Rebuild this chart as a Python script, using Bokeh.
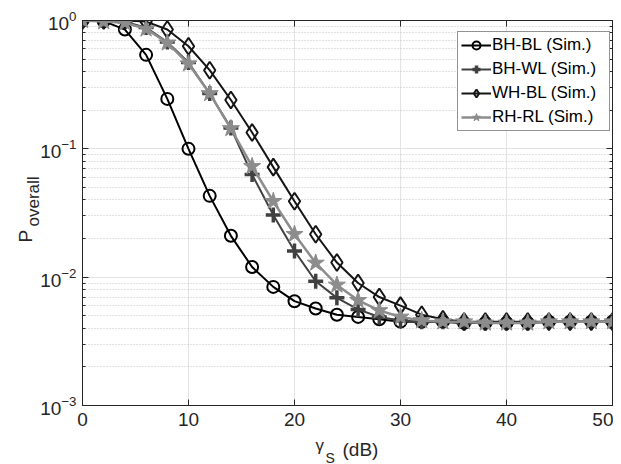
from bokeh.plotting import figure
from bokeh.models import (Range1d, LinearAxis, LogAxis, Legend, LegendItem, GridBox,
                          FixedTicker, LogTicker, ColumnDataSource, CustomJSTickFormatter)
from bokeh.core.properties import value
from bokeh.embed import file_html
from bokeh.resources import INLINE

snr_db = [0, 2, 4, 6, 8, 10, 12, 14, 16, 18, 20, 22, 24, 26, 28, 30,
          32, 34, 36, 38, 40, 42, 44, 46, 48, 50]

bh_bl = [1.0, 0.99, 0.85, 0.54, 0.245, 0.10, 0.043, 0.021, 0.012, 0.0084,
         0.0065, 0.0057, 0.0051, 0.0049, 0.0047, 0.0045, 0.0045, 0.0045,
         0.0044, 0.0044, 0.0044, 0.0044, 0.0045, 0.0045, 0.0045, 0.0045]
bh_wl = [1.0, 1.0, 0.98, 0.88, 0.68, 0.47, 0.27, 0.145, 0.063, 0.0305,
         0.016, 0.0093, 0.0069, 0.0056, 0.0049, 0.0046, 0.0045, 0.0045,
         0.0044, 0.0044, 0.0044, 0.0044, 0.0045, 0.0045, 0.0045, 0.0045]
wh_bl = [1.0, 1.0, 1.0, 0.98, 0.85, 0.63, 0.41, 0.24, 0.134, 0.072,
         0.039, 0.0216, 0.013, 0.009, 0.007, 0.006, 0.0051, 0.0047,
         0.0045, 0.0045, 0.0045, 0.0045, 0.0045, 0.0045, 0.0045, 0.0045]
rh_rl = [1.0, 0.98, 0.96, 0.86, 0.67, 0.46, 0.27, 0.144, 0.073, 0.039,
         0.0216, 0.0129, 0.0087, 0.0066, 0.0055, 0.0049, 0.0046, 0.0045,
         0.0045, 0.0044, 0.0044, 0.0044, 0.0045, 0.0045, 0.0045, 0.0045]

labels = ["BH-BL (Sim.)", "BH-WL (Sim.)", "WH-BL (Sim.)", "RH-RL (Sim.)"]
x_ticks = [0, 10, 20, 30, 40, 50]
y_title = ["P", "overall"]
x_title = ["\u03b3", "S", "(dB)"]

FONT = "Liberation Sans"
TXT = "#262626"

W, H = 613, 462
HO = 464

p = figure(frame_width=530, frame_height=385, y_axis_type="log",
           x_range=Range1d(0, 50), y_range=Range1d(1e-3, 1.0),
           output_backend="svg", toolbar_location=None,
           min_border_left=82, min_border_top=20, min_border_right=1,
           min_border_bottom=H - 405, background_fill_color="white",
           border_fill_color="white", frame_align=False)
p.outline_line_color = TXT
p.outline_line_width = 1

# axes
p.xaxis.ticker = FixedTicker(ticks=x_ticks)
for ax in [p.xaxis[0], p.yaxis[0]]:
    ax.major_tick_in = 6
    ax.major_tick_out = 0
    ax.minor_tick_in = 3
    ax.minor_tick_out = 0
    ax.axis_line_color = TXT
    ax.major_tick_line_color = TXT
    ax.minor_tick_line_color = TXT
    ax.major_label_text_font = FONT
    ax.major_label_text_font_size = "19px"
    ax.major_label_text_color = TXT
p.xaxis.minor_tick_line_color = None
p.xaxis.major_label_standoff = 7
p.yaxis.major_label_standoff = 6

blank = CustomJSTickFormatter(code="return ''")
top = LinearAxis(ticker=FixedTicker(ticks=x_ticks), formatter=blank,
                 major_tick_in=6, major_tick_out=0, minor_tick_line_color=None,
                 major_label_standoff=0, axis_line_color=TXT, major_tick_line_color=TXT)
right = LogAxis(ticker=LogTicker(num_minor_ticks=10), formatter=blank,
                major_tick_in=6, major_tick_out=0, minor_tick_in=3, minor_tick_out=0,
                major_label_standoff=0, axis_line_color=TXT, major_tick_line_color=TXT,
                minor_tick_line_color=TXT)
p.add_layout(top, "above")
p.add_layout(right, "right")

# grids
p.xgrid.grid_line_color = "#e3e3e3"
p.xgrid.ticker = FixedTicker(ticks=x_ticks)
p.ygrid.grid_line_color = "#e3e3e3"
p.ygrid.minor_grid_line_color = "#c4c4c4"
p.ygrid.minor_grid_line_dash = "1 2"

src = ColumnDataSource(dict(x=snr_db, a=bh_bl, b=bh_wl, c=wh_bl, d=rh_rl))

l1 = p.line("x", "a", source=src, line_color="black", line_width=2)
s1 = p.scatter("x", "a", source=src, marker="circle", size=12, line_color="black",
               line_width=2, fill_color=None)
l2 = p.line("x", "b", source=src, line_color="#404040", line_width=2)
s2 = p.scatter("x", "b", source=src, marker="cross", size=15, line_color="#404040",
               line_width=3.5)
l3 = p.line("x", "c", source=src, line_color="#151515", line_width=2)
s3 = p.scatter("x", "c", source=src, marker="diamond", size=17, line_color="#151515",
               line_width=2, fill_color=None)
l4 = p.line("x", "d", source=src, line_color="#8c8c8c", line_width=2.5)
s4 = p.scatter("x", "d", source=src, marker="star", size=18, line_color="#8c8c8c",
               fill_color="#8c8c8c", line_width=1)

legend = Legend(items=[LegendItem(label=labels[0], renderers=[l1, s1]),
                       LegendItem(label=labels[1], renderers=[l2, s2]),
                       LegendItem(label=labels[2], renderers=[l3, s3]),
                       LegendItem(label=labels[3], renderers=[l4, s4])],
                location=(375, 274), label_text_font=FONT, label_text_font_size="17px",
                label_text_color="black", glyph_width=30, glyph_height=20,
                label_height=20, label_width=114, label_standoff=1, spacing=4,
                padding=3, margin=0, border_line_color=TXT, border_line_width=1,
                background_fill_color="white", background_fill_alpha=1.0)
p.add_layout(legend, "center")

# transparent overlay figure carrying the axis titles (pixel coordinates)
ov = figure(width=W, height=HO, x_range=Range1d(0, W), y_range=Range1d(0, HO),
            x_axis_type=None, y_axis_type=None, output_backend="svg",
            toolbar_location=None, min_border=0, outline_line_color=None,
            background_fill_alpha=0, border_fill_alpha=0, frame_align=False)
ov.xgrid.visible = False
ov.ygrid.visible = False

tk = dict(text_font=value(FONT), text_color=TXT, text_align="left",
          text_baseline="alphabetic")
ov.text(x=[25], y=[HO - 242], text=[y_title[0]], angle=1.5708,
        text_font_size="19px", **tk)
ov.text(x=[33], y=[HO - 226], text=[y_title[1]], angle=1.5708,
        text_font_size="17px", **tk)
ov.text(x=[315], y=[HO - 445], text=[x_title[0]], text_font_size="17px", **tk)
ov.text(x=[325], y=[HO - 457], text=[x_title[1]], text_font_size="14px", **tk)
ov.text(x=[342], y=[HO - 449], text=[x_title[2]], text_font_size="19px", **tk)

layout = GridBox(children=[(p, 0, 0), (ov, 0, 0)])

open("out.html", "w").write(file_html(layout, INLINE))
